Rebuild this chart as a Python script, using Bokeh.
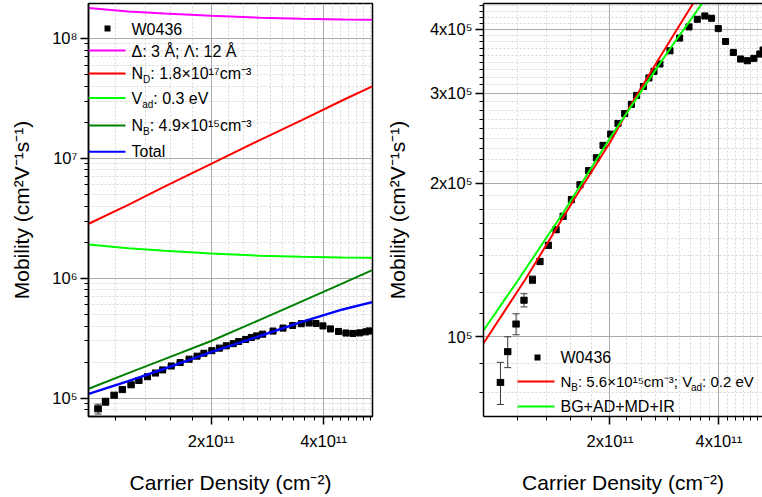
from bokeh.plotting import figure
from bokeh.models import (FixedTicker, Range1d, Label, BoxAnnotation, Whisker,
                          TeeHead, ColumnDataSource, LogAxis)
from bokeh.layouts import row
from bokeh.embed import file_html
from bokeh.resources import INLINE

FONT = "Liberation Sans"

# ---------------- measured data: sample W0436 ----------------
density_e11 = [0.996, 1.043, 1.100, 1.157, 1.221, 1.281, 1.351, 1.419, 1.484, 1.564,
               1.652, 1.746, 1.834, 1.913, 2.009, 2.104, 2.196, 2.292, 2.370, 2.474,
               2.563, 2.646, 2.748, 2.930, 3.116, 3.306, 3.487, 3.658, 3.818, 3.985,
               4.174, 4.386, 4.592, 4.793, 4.998, 5.190, 5.300]
mobility_e5 = [0.815, 0.936, 1.060, 1.180, 1.294, 1.405, 1.511, 1.621, 1.722, 1.856,
               1.985, 2.116, 2.242, 2.370, 2.493, 2.616, 2.735, 2.851, 2.968, 3.090,
               3.212, 3.308, 3.420, 3.629, 3.842, 4.041, 4.182, 4.245, 4.201, 4.010,
               3.784, 3.602, 3.497, 3.470, 3.507, 3.576, 3.640]
mobility_err_e5 = [0.077, 0.065, 0.050, 0.035, 0.022, 0.020, 0.020, 0.020, 0.020, 0.020,
                   0.022, 0.022, 0.024, 0.024, 0.025, 0.025, 0.026, 0.026, 0.027, 0.027,
                   0.028, 0.028, 0.030, 0.030, 0.032, 0.032, 0.033, 0.033, 0.033, 0.032,
                   0.030, 0.030, 0.030, 0.030, 0.030, 0.030, 0.030]
density_err_e11 = [0.021, 0.021, 0.022, 0.022, 0.023, 0.023, 0.024, 0.025, 0.025, 0.026,
                   0.027, 0.028, 0.029, 0.030, 0.031, 0.032, 0.033, 0.034, 0.035, 0.036,
                   0.037, 0.038, 0.039, 0.040, 0.041, 0.042, 0.043, 0.044, 0.045, 0.046,
                   0.047, 0.048, 0.049, 0.050, 0.050, 0.050, 0.050]

# ---------------- left panel: scattering components ----------------
model_density_e11 = [0.94, 1.2, 1.5, 2.0, 2.7, 3.5, 4.5, 5.4]
mu_roughness = [1.79e8, 1.68e8, 1.61e8, 1.545e8, 1.49e8, 1.46e8, 1.44e8, 1.43e8]
mu_donor = [2.85e6, 4.1e6, 5.8e6, 9.0e6, 1.42e7, 2.08e7, 3.05e7, 3.98e7]
mu_alloy = [1.91e6, 1.78e6, 1.70e6, 1.61e6, 1.54e6, 1.51e6, 1.49e6, 1.48e6]
mu_background = [1.2e5, 1.62e5, 2.12e5, 3.0e5, 4.5e5, 6.42e5, 9.06e5, 1.17e6]
mu_total = [1.086e5, 1.39e5, 1.76e5, 2.42e5, 3.3e5, 4.33e5, 5.5e5, 6.33e5]

# ---------------- right panel: fits ----------------
fit_nb_density_e11 = [0.894, 1.17, 1.6, 2.0, 2.33, 2.65, 3.0, 3.4]
fit_nb_mu = [0.972e5, 1.30e5, 1.87e5, 2.40e5, 2.91e5, 3.38e5, 3.90e5, 4.5e5]
fit_all_density_e11 = [0.894, 1.121, 1.5, 2.0, 2.33, 2.65, 3.0, 3.3, 3.6]
fit_all_mu = [1.03e5, 1.30e5, 1.77e5, 2.45e5, 2.88e5, 3.30e5, 3.75e5, 4.12e5, 4.5e5]

# ---------------- ticks ----------------
x_major = [200000000000, 400000000000]
x_major_labels = ["2x10¹¹", "4x10¹¹"]
left_y_major = [100000, 1000000, 10000000, 100000000]
left_y_labels = ["10⁵", "10⁶", "10⁷", "10⁸"]
right_y_major = [100000, 200000, 300000, 400000]
right_y_labels = ["10⁵", "2x10⁵", "3x10⁵", "4x10⁵"]

x_minor = [k * 2e11 / 9 for k in range(4, 26) if k % 9 != 0]
left_y_minor = [m * 10.0 ** e for e in range(4, 9) for m in range(2, 10)]
right_y_minor = [1e5 * (j + k / 9) for j in range(0, 5) for k in range(1, 9)]

x = [v * 1e11 for v in density_e11]
y = [v * 1e5 for v in mobility_e5]
src = ColumnDataSource(dict(
    x=x, y=y,
    ylo=[(a - b) * 1e5 for a, b in zip(mobility_e5, mobility_err_e5)],
    yhi=[(a + b) * 1e5 for a, b in zip(mobility_e5, mobility_err_e5)],
    xlo=[(a - b) * 1e11 for a, b in zip(density_e11, density_err_e11)],
    xhi=[(a + b) * 1e11 for a, b in zip(density_e11, density_err_e11)],
))

CW = {c: 0.556 for c in "0123456789"}
CW.update({'.': 0.278, ':': 0.278, ';': 0.278, ' ': 0.278, '×': 0.584, 'c': 0.5,
           'm': 0.833, 'V': 0.667, 'N': 0.722, 'e': 0.556, 'a': 0.556, 'd': 0.556,
           'B': 0.667, 'D': 0.722})


def tw(s, size):
    return sum(CW.get(ch, 0.333 if ch in "¹²³⁴⁵⁶⁷⁸⁹⁰⁻" else 0.6) for ch in s) * size


def style(p, xlabels, ylabels, xt, yt, xminor, yminor, ylabel_standoff):
    p.xaxis.ticker = FixedTicker(ticks=xt, minor_ticks=xminor)
    p.yaxis.ticker = FixedTicker(ticks=yt, minor_ticks=yminor)
    p.xaxis.major_label_overrides = dict(zip(xt, xlabels))
    p.yaxis.major_label_overrides = dict(zip(yt, ylabels))
    for ax in (p.xaxis, p.yaxis):
        ax.axis_line_width = 1.5
        ax.axis_line_color = "black"
        ax.major_tick_out = 8
        ax.major_tick_in = 0
        ax.minor_tick_out = 4
        ax.minor_tick_in = 0
        ax.major_tick_line_width = 1.5
        ax.minor_tick_line_width = 1
        ax.major_tick_line_color = "black"
        ax.minor_tick_line_color = "black"
        ax.major_label_text_font = FONT
        ax.major_label_text_font_size = "16.5px"
        ax.major_label_text_color = "black"
        ax.axis_label_text_font = FONT
        ax.axis_label_text_font_size = "21px"
        ax.axis_label_text_font_style = "normal"
        ax.axis_label_text_color = "black"
    p.xaxis.major_label_standoff = 7
    p.yaxis.major_label_standoff = 3
    p.xaxis.axis_label = "Carrier Density (cm⁻²)"
    p.yaxis.axis_label = "Mobility (cm²V⁻¹s⁻¹)"
    p.xaxis.axis_label_standoff = 18
    p.yaxis.axis_label_standoff = ylabel_standoff
    for g in (p.xgrid, p.ygrid):
        g.grid_line_color = "#ababab"
        g.grid_line_width = 1
        g.minor_grid_line_color = "#d6d6d6"
        g.minor_grid_line_dash = "2 2"
        g.minor_grid_line_width = 1
    p.background_fill_color = "white"
    p.border_fill_color = "white"


def data_marks(p):
    p.add_layout(Whisker(source=src, base="x", lower="ylo", upper="yhi", dimension="height",
                         line_color="#3a3a3a", line_width=1,
                         upper_head=TeeHead(size=7, line_color="#3a3a3a", line_width=1),
                         lower_head=TeeHead(size=7, line_color="#3a3a3a", line_width=1)))
    p.add_layout(Whisker(source=src, base="y", lower="xlo", upper="xhi", dimension="width",
                         line_color="#3a3a3a", line_width=1,
                         upper_head=TeeHead(size=7, line_color="#3a3a3a", line_width=1),
                         lower_head=TeeHead(size=7, line_color="#3a3a3a", line_width=1)))
    p.scatter("x", "y", source=src, marker="square", size=6, color="black")


def leg_line(p, x0, x1, yc, color):
    p.add_layout(BoxAnnotation(left=x0, right=x1, bottom=yc - 1, top=yc + 1,
                               left_units="screen", right_units="screen",
                               bottom_units="screen", top_units="screen",
                               fill_color=color, fill_alpha=1, line_color=None, line_alpha=0))


def leg_marker(p, xc, yc):
    p.add_layout(BoxAnnotation(left=xc - 3, right=xc + 3, bottom=yc - 3, top=yc + 3,
                               left_units="screen", right_units="screen",
                               bottom_units="screen", top_units="screen",
                               fill_color="black", fill_alpha=1, line_color=None, line_alpha=0))


def leg_text(p, x0, yc, segments, size=16):
    cx = x0
    for text, sub in segments:
        s = 10 if sub else size
        p.add_layout(Label(x=cx, y=yc - 6 if sub else yc, x_units="screen", y_units="screen",
                           text=text, text_font=FONT, text_font_size=f"{s}px",
                           text_color="black", text_baseline="middle", text_align="left"))
        cx += tw(text, s)


# ---------------- left figure ----------------
p1 = figure(width=380, height=496, x_axis_type="log", y_axis_type="log",
            x_range=Range1d(0.939e11, 5.41e11), y_range=Range1d(7.04e4, 1.955e8),
            output_backend="svg", toolbar_location=None,
            min_border_left=88, min_border_right=8, min_border_top=3, min_border_bottom=78)
style(p1, x_major_labels, left_y_labels, x_major, left_y_major, x_minor, left_y_minor, 16)
p1.outline_line_color = "black"
p1.outline_line_width = 1.5

mx = [v * 1e11 for v in model_density_e11]
p1.line(mx, mu_roughness, line_color="#ff00ff", line_width=2)
p1.line(mx, mu_donor, line_color="#ff0000", line_width=2)
p1.line(mx, mu_alloy, line_color="#00ff00", line_width=2)
p1.line(mx, mu_background, line_color="#008000", line_width=2)
data_marks(p1)
p1.line(mx, mu_total, line_color="#0000ff", line_width=2.5)

# legend (screen units, frame-relative)
leg_marker(p1, 19, 388)
leg_text(p1, 43, 387.5, [("W0436", False)])
leg_line(p1, 0, 37, 366, "#ff00ff")
leg_text(p1, 43, 365, [("Δ: 3 Å; Λ: 12 Å", False)])
leg_line(p1, 0, 37, 343, "#ff0000")
leg_text(p1, 43, 343, [("N", False), ("D", True), (": 1.8×10¹⁷cm⁻³", False)])
leg_line(p1, 0, 37, 318.5, "#00ff00")
leg_text(p1, 43, 318.5, [("V", False), ("ad", True), (": 0.3 eV", False)])
leg_line(p1, 0, 37, 291, "#008000")
leg_text(p1, 43, 291, [("N", False), ("B", True), (": 4.9×10¹⁵cm⁻³", False)])
leg_line(p1, 0, 37, 264.7, "#0000ff")
leg_text(p1, 43, 265, [("Total", False)])

# ---------------- right figure ----------------
p2 = figure(width=382, height=496, x_axis_type="log", y_axis_type="log",
            x_range=Range1d(0.894e11, 5.28e11), y_range=Range1d(6.99e4, 4.49e5),
            output_backend="svg", toolbar_location=None,
            min_border_left=103, min_border_right=0, min_border_top=3, min_border_bottom=78)
style(p2, x_major_labels, right_y_labels, x_major, right_y_major, x_minor, right_y_minor, 18)
p2.outline_line_color = None
top_axis = LogAxis(ticker=FixedTicker(ticks=[]), major_label_text_font_size="0px",
                   axis_line_width=1.5, axis_line_color="black",
                   major_tick_line_color=None, minor_tick_line_color=None)
p2.add_layout(top_axis, "above")

data_marks(p2)
p2.line([v * 1e11 for v in fit_nb_density_e11], fit_nb_mu, line_color="#ff0000", line_width=2)
p2.line([v * 1e11 for v in fit_all_density_e11], fit_all_mu, line_color="#00ff00", line_width=2)

leg_marker(p2, 54, 59)
leg_text(p2, 77, 59, [("W0436", False)])
leg_line(p2, 34, 71, 35, "#ff0000")
leg_text(p2, 77, 35, [("N", False), ("B", True), (": 5.6×10¹⁵cm⁻³; V", False),
                      ("ad", True), (": 0.2 eV", False)], size=15)
leg_line(p2, 34, 71, 10, "#00ff00")
leg_text(p2, 77, 10, [("BG+AD+MD+IR", False)])

layout = row(p1, p2)
open("out.html", "w").write(file_html(layout, INLINE))
